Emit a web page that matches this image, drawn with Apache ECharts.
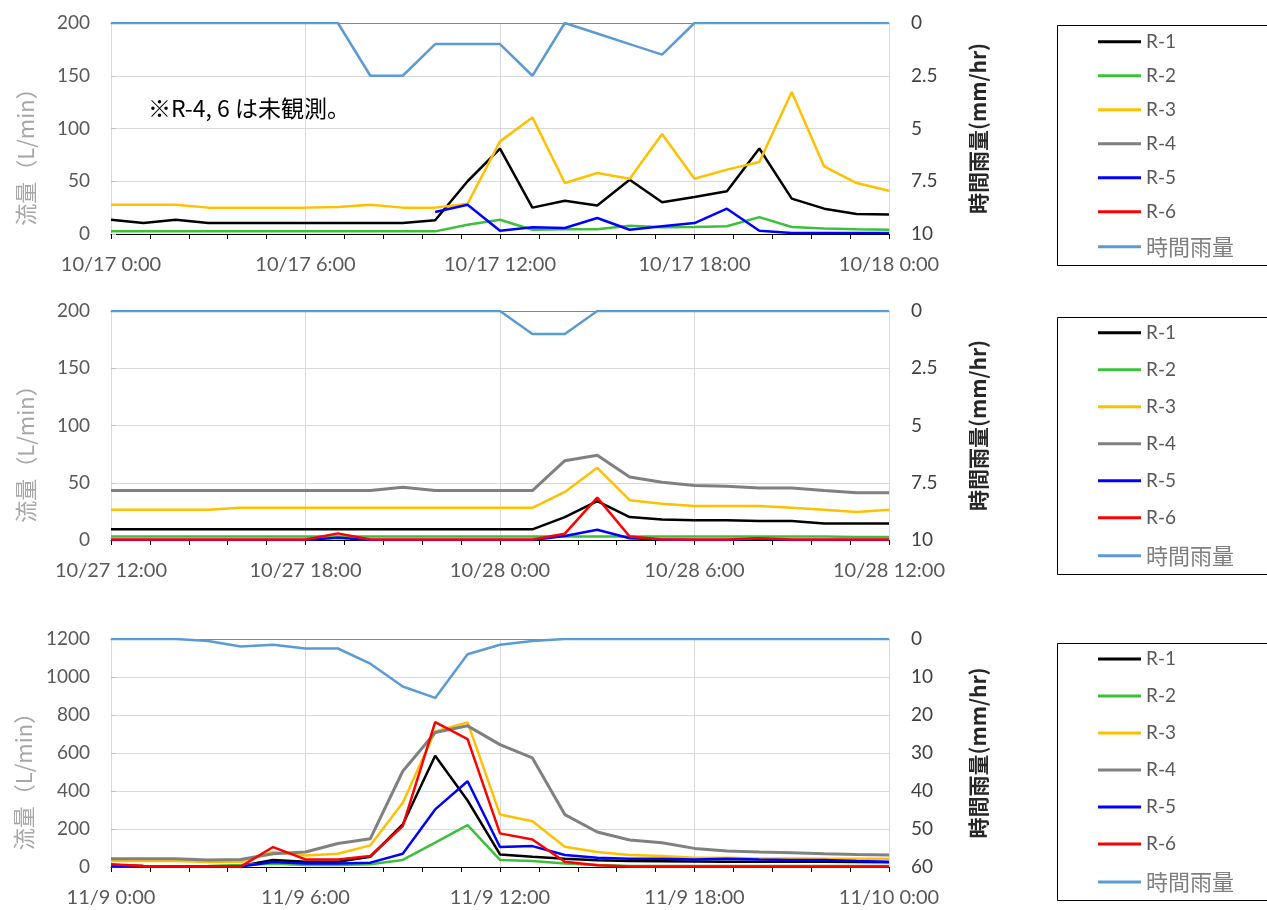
<!DOCTYPE html>
<html><head><meta charset="utf-8">
<script src="https://cdn.jsdelivr.net/npm/echarts@6/dist/echarts.min.js"></script>
<style>html,body{margin:0;padding:0;background:#fff}#c{width:1267px;height:910px}</style>
</head><body><div id="c"></div>
<script>
// hour offsets from each panel's start
const hours = [0,1,2,3,4,5,6,7,8,9,10,11,12,13,14,15,16,17,18,19,20,21,22,23,24];
const seriesNames = ['R-1','R-2','R-3','R-4','R-5','R-6','時間雨量'];
const xLabels1 = ['10/17 0:00','10/17 6:00','10/17 12:00','10/17 18:00','10/18 0:00'];
const xLabels2 = ['10/27 12:00','10/27 18:00','10/28 0:00','10/28 6:00','10/28 12:00'];
const xLabels3 = ['11/9 0:00','11/9 6:00','11/9 12:00','11/9 18:00','11/10 0:00'];

// Panel 1 (10/17)
const p1R1 = [13.5,10.5,13.5,10.5,10.5,10.5,10.5,10.5,10.5,10.5,13,50,81,25,31.5,27,51.5,30,35,40.5,81,33.5,24,19,18.5];
const p1R2 = [2.5,2.5,2.5,2.5,2.5,2.5,2.5,2.5,2.5,2.5,2.5,8.8,13.5,4,4.5,4.5,7.9,6.3,6.6,7.3,16,6.6,5.3,4.5,4];
const p1R3 = [27.8,27.8,27.8,25,25,25,25,25.5,27.8,25,25,28.7,87.8,110.5,48.3,57.8,52.4,94.8,52.4,61,68.2,134.6,64,48.3,41];
const p1R5 = [null,null,null,null,null,null,null,null,null,null,20.8,27.8,3.1,6.3,5.7,15.2,4,7.3,10.4,24,3.1,1,1,1,1];
const p1Rain = [0,0,0,0,0,0,0,0,2.5,2.5,1,1,1,2.5,0,0.5,1,1.5,0,0,0,0,0,0,0];

// Panel 2 (10/27 12:00 - 10/28 12:00)
const p2R1 = [9.3,9.3,9.3,9.3,9.3,9.3,9.3,9.3,9.3,9.3,9.3,9.3,9.3,9.3,20,34,20,18,17.2,17.2,16.6,16.6,14.5,14.5,14.5];
const p2R2 = [3,3,3,3,3,3,3,3,3,3,3,3,3,3,3,3,3,3,3,3,3,3,3,2.6,2.6];
const p2R3 = [26.4,26.4,26.4,26.4,28.1,28.1,28.1,28.1,28.1,28.1,28.1,28.1,28.1,28.1,42,63,34.8,31.6,29.8,29.8,29.8,28.1,26.4,24.4,26.4];
const p2R4 = [43.2,43.2,43.2,43.2,43.2,43.2,43.2,43.2,43.2,46,43.2,43.2,43.2,43.2,69.3,74,55,50.4,47.5,47,45.5,45.5,43.2,41.2,41.2];
const p2R5 = [0,0,0,0,0,0,0,2,0,0,0,0,0,0,3.5,9,1.5,0.5,0,0,1,0,0,0,0];
const p2R6 = [0.5,0.5,0.5,0.5,0.5,0.5,0.5,5.8,0.5,0.5,0.5,0.5,0.5,0.5,5.5,37,3,0.5,0.5,0.5,1.5,0.5,0.5,0.5,0.5];
const p2Rain = [0,0,0,0,0,0,0,0,0,0,0,0,0,1,1,0,0,0,0,0,0,0,0,0,0];

// Panel 3 (11/9)
const p3R1 = [10,5,2,2,5,37,28,28,54,224,586,350,66,54,44,35,31,30,29,28,28,27,27,26,25];
const p3R2 = [2,2,2,5,10,17,10,10,14,37,128,220,37,31,19,10,5,5,5,5,5,5,5,5,5];
const p3R3 = [31.5,31.5,31.5,26,26,79,61,70,114,338,714,761,276,241,107,79,63,58,49,49,45,45,44,44,44];
const p3R4 = [44,44,44,37,40,70,79,124,149,504,708,743,644,574,276,184,142,128,98,84,79,75,70,66,63];
const p3R5 = [2,2,2,2,2,26,19,19,23,70,303,451,105,110,63,49,44,44,40,44,40,37,37,31,28];
const p3R6 = [14,5,2,2,2,105,40,40,58,215,763,673,177,145,28,9,2,2,2,2,2,2,2,2,2];
const p3Rain = [0,0,0,0.5,2,1.5,2.5,2.5,6.5,12.5,15.5,4,1.5,0.5,0,0,0,0,0,0,0,0,0,0,0];

const COL = {'R-1':'#000000','R-2':'#3CC03C','R-3':'#FFC000','R-4':'#808080','R-5':'#0000FF','R-6':'#FF0000','時間雨量':'#5B9BD5'};
const WID = {'R-1':2.5,'R-2':2.5,'R-3':2.5,'R-4':3,'R-5':2.5,'R-6':2.5,'時間雨量':2.5};
const FONT = "Lato, 'Noto Sans CJK JP', sans-serif";
const CJK = "'Noto Sans CJK JP', sans-serif";

const grids = [
  {left:111, right:378, top:23, height:211},
  {left:111, right:378, top:311, height:229},
  {left:111, right:378, top:639, height:228}
];

function mk(name, vals, g) {
  const isRain = name === '時間雨量';
  return {
    name, type:'line', xAxisIndex:g, yAxisIndex: g*2 + (isRain?1:0),
    data: hours.map((h,i)=>[h, vals[i]]).filter(d=>d[1]!=null),
    symbol:'none', showSymbol:false, animation:false,
    lineStyle:{color:COL[name], width:WID[name]}, itemStyle:{color:COL[name]}
  };
}

const labelSets = [xLabels1, xLabels2, xLabels3];
const xAxes = [];
for (let g=0; g<3; g++) {
  const labs = labelSets[g];
  xAxes.push({
    type:'value', gridIndex:g, min:0, max:24, interval:6, position:'bottom',
    axisLine:{show:true, onZero:false, lineStyle:{color:'#000', width:1}},
    axisTick:{show:true, length:5, lineStyle:{color:'#000'}},
    minorTick:{show:true, splitNumber:5, length:5, lineStyle:{color:'#000'}},
    splitLine:{show:true, lineStyle:{color:'#D9D9D9', width:1}},
    axisLabel:{color:'#595959', fontSize:20, fontFamily:FONT, margin:21, showMinLabel:true, showMaxLabel:true,
      formatter:(v)=>labs[Math.round(v/6)]}
  });
}
for (let g=0; g<3; g++) {
  xAxes.push({
    type:'value', gridIndex:g, min:0, max:24, position:'top',
    axisLine:{show:true, onZero:false, lineStyle:{color:'#868686', width:1}},
    axisTick:{show:false}, axisLabel:{show:false}, splitLine:{show:false}
  });
}

const flowMax = [200, 200, 1200], flowInt = [50, 50, 200];
const rainMax = [10, 10, 60], rainInt = [2.5, 2.5, 10];
const yAxes = [];
for (let g=0; g<3; g++) {
  yAxes.push({
    type:'value', gridIndex:g, min:0, max:flowMax[g], interval:flowInt[g], position:'left',
    name:'流量（L/min）', nameLocation:'middle', nameGap:74,
    nameTextStyle:{color:'#A6A6A6', fontSize:22, fontFamily:CJK, padding:[0,46,0,0]},
    axisLine:{show:true, lineStyle:{color:'#868686', width:1}},
    axisTick:{show:false},
    splitLine:{show:true, lineStyle:{color:'#D9D9D9', width:1}},
    axisLabel:{color:'#595959', fontSize:19, fontFamily:FONT, margin:21, formatter:(v)=>String(v)}
  });
  yAxes.push({
    type:'value', gridIndex:g, min:0, max:rainMax[g], interval:rainInt[g], inverse:true, position:'right',
    name:'時間雨量(mm/hr)', nameLocation:'middle', nameGap:79,
    nameTextStyle:{color:'#262626', fontSize:21, fontWeight:'bold', fontFamily:CJK},
    axisLine:{show:true, lineStyle:{color:'#D9D9D9', width:1}},
    axisTick:{show:true, length:5, lineStyle:{color:'#BFBFBF'}},
    splitLine:{show:false},
    axisLabel:{color:'#404040', fontSize:19, fontFamily:FONT, margin:22, formatter:(v)=>String(v)}
  });
}

const series = [
  mk('R-1', p1R1, 0), mk('R-2', p1R2, 0), mk('R-3', p1R3, 0), mk('R-5', p1R5, 0), mk('時間雨量', p1Rain, 0),
  mk('R-1', p2R1, 1), mk('R-2', p2R2, 1), mk('R-3', p2R3, 1), mk('R-4', p2R4, 1), mk('R-5', p2R5, 1), mk('R-6', p2R6, 1), mk('時間雨量', p2Rain, 1),
  mk('R-1', p3R1, 2), mk('R-2', p3R2, 2), mk('R-3', p3R3, 2), mk('R-4', p3R4, 2), mk('R-5', p3R5, 2), mk('R-6', p3R6, 2), mk('時間雨量', p3Rain, 2)
];

function legend(top, gap) {
  return {
    orient:'vertical', left:1098, top:top, padding:0, itemGap:gap,
    itemWidth:43, itemHeight:3, icon:'rect', selectedMode:false,
    data: seriesNames.map(n=>({name:n, itemStyle:{color:COL[n]}})),
    formatter:(n)=> n==='時間雨量' ? '{j|'+n+'}' : n,
    textStyle:{color:'#595959', fontSize:19, fontFamily:FONT, lineHeight:20, padding:[0,0,0,0],
      rich:{j:{fontSize:22, fontFamily:CJK, color:'#7F7F7F', lineHeight:20}}}
  };
}

const chart = echarts.init(document.getElementById('c'), null, {renderer:'canvas'});
chart.setOption({
  animation:false,
  backgroundColor:'#fff',
  textStyle:{fontFamily:FONT},
  grid: grids,
  xAxis: xAxes,
  yAxis: yAxes,
  series: series,
  legend: [legend(31.7, 14), legend(322.7, 17), legend(649, 17)],
  graphic: [
    {type:'rect', left:1055, top:23, shape:{width:211, height:240}, style:{fill:'none', stroke:'#000', lineWidth:1}},
    {type:'rect', left:1055, top:315, shape:{width:211, height:257}, style:{fill:'none', stroke:'#000', lineWidth:1}},
    {type:'rect', left:1055, top:641, shape:{width:211, height:257}, style:{fill:'none', stroke:'#000', lineWidth:1}},
    {type:'text', left:148, top:97, style:{text:'※R-4, 6 は未観測。', fill:'#000', font:"23px 'Noto Sans CJK JP', sans-serif"}}
  ]
});
</script></body></html>
